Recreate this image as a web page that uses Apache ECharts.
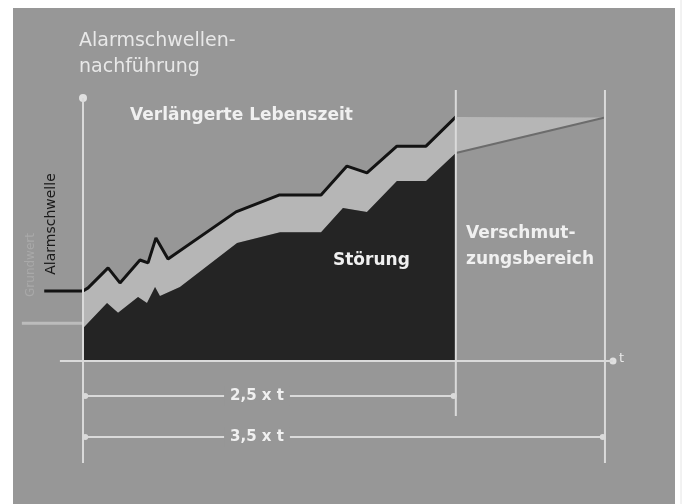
<!DOCTYPE html>
<html>
<head>
<meta charset="utf-8">
<script src="https://cdn.jsdelivr.net/npm/echarts@6/dist/echarts.min.js"></script>
<style>
  html, body { margin: 0; padding: 0; background: #ffffff; }
  #chart { width: 684px; height: 504px; }
</style>
</head>
<body>
<div id="chart"></div>
<script>
// time in units of t, signal level in % of y-axis height
const thresholdT = [-0.26, 0, 0.034, 0.168, 0.248, 0.382, 0.436, 0.489, 0.570, 1.026, 1.314, 1.596, 1.770, 1.904, 2.105, 2.300, 2.5];
const thresholdV = [26.6, 26.6, 27.8, 35.4, 29.7, 38.4, 37.3, 46.8, 38.8, 56.7, 63.1, 63.1, 74.1, 71.5, 81.7, 81.7, 92.8];
const disturbT = [0, 0.161, 0.235, 0.369, 0.429, 0.483, 0.516, 0.650, 1.033, 1.321, 1.596, 1.743, 1.904, 2.105, 2.300, 2.5];
const disturbV = [12.5, 22.1, 18.3, 24.3, 22.1, 28.1, 24.7, 28.1, 44.9, 49.0, 49.0, 58.2, 56.7, 68.4, 68.4, 79.1];
const pollutionT = [2.5, 3.5];
const pollutionTopV = [92.8, 92.6];
const pollutionBottomV = [79.1, 92.6];
const baseLevelT = [-0.41, 0];
const baseLevelV = [14.4, 14.4];
const markerT = [0, 2.5, 3.5];          // 0, 2,5 x t, 3,5 x t
const spanLabels = ['2,5 x t', '3,5 x t'];
const spanV = [-13.3, -28.9];
const axisTopV = 100;
const axisEndT = 3.554;

const zip = (a, b) => a.map((x, i) => [x, b[i]]);

const threshold = zip(thresholdT, thresholdV);
const disturb = zip(disturbT, disturbV);
const polTop = zip(pollutionT, pollutionTopV);
const polBottom = zip(pollutionT, pollutionBottomV);

// light band polygon: threshold (t>=0) -> wedge top -> wedge bottom back -> disturbance back
const bandPoly = threshold.filter(p => p[0] >= 0)
  .concat([polTop[1]])
  .concat(polBottom.slice().reverse())
  .concat(disturb.slice().reverse());
const blackPoly = disturb.concat([[disturbT[disturbT.length - 1], 0], [disturbT[0], 0]]);

const BG = '#979797';
const LIGHT = '#dadada';

function polySeries(poly, fill) {
  return {
    type: 'custom', silent: true, animation: false,
    data: [[0, 0]],
    renderItem: function (params, api) {
      return { type: 'polygon', shape: { points: poly.map(p => api.coord(p)) }, style: { fill: fill } };
    }
  };
}
function lineSeries(data, color, width, sym, symSize) {
  return {
    type: 'line', data: data, silent: true, animation: false, clip: false,
    symbol: sym || 'none', symbolSize: symSize || 0, showSymbol: !!sym,
    itemStyle: { color: color, borderWidth: 0 },
    lineStyle: { color: color, width: width }
  };
}

const chart = echarts.init(document.getElementById('chart'), null, { renderer: 'canvas' });
const series = [
  polySeries(bandPoly, '#b6b6b6'),
  polySeries(blackPoly, '#242424'),
  lineSeries(polBottom, '#6c6c6c', 2),
  lineSeries(threshold, '#131313', 3),
  lineSeries(zip(baseLevelT, baseLevelV), '#bcbcbc', 3),
  // y axis
  lineSeries([[markerT[0], spanV[1] - 9.9], [markerT[0], axisTopV]], LIGHT, 2),
  { type: 'scatter', data: [[markerT[0], axisTopV]], symbolSize: 8, itemStyle: { color: '#f2f2f2' }, silent: true, animation: false },
  // x axis
  lineSeries([[-0.155, 0], [axisEndT, 0]], LIGHT, 2),
  { type: 'scatter', data: [[axisEndT, 0]], symbolSize: 7, itemStyle: { color: '#f2f2f2' }, silent: true, animation: false },
  // vertical markers
  lineSeries([[markerT[1], -20.9], [markerT[1], 103]], LIGHT, 2),
  lineSeries([[markerT[2], spanV[1] - 9.9], [markerT[2], 103]], LIGHT, 2),
  // span lines
  lineSeries([[markerT[0] + 0.015, spanV[0]], [markerT[1] - 0.015, spanV[0]]], LIGHT, 2, 'circle', 6),
  lineSeries([[markerT[0] + 0.015, spanV[1]], [markerT[2] - 0.015, spanV[1]]], LIGHT, 2, 'circle', 6)
];

const txt = (text, left, top, size, weight, color, extra) => Object.assign({
  type: 'text', left: left, top: top, z: 100,
  style: { text: text, fill: color || '#eeeeee', font: (weight || 'normal') + ' ' + size + 'px "DejaVu Sans"' }
}, extra || {});

chart.setOption({
  backgroundColor: '#ffffff',
  animation: false,
  grid: { left: 15.9, right: 34.3, top: 71.7, bottom: 24.65, containLabel: false },
  xAxis: { type: 'value', min: -0.45, max: 3.8, show: false },
  yAxis: { type: 'value', min: -45, max: 110, show: false },
  graphic: [
    { type: 'rect', z: -100, shape: { x: 13, y: 8, width: 662, height: 496 }, style: { fill: BG } },
    { type: 'line', z: -90, shape: { x1: 681, y1: 0, x2: 681, y2: 504 }, style: { stroke: '#e4e4e4', lineWidth: 1 } },
    txt('Alarmschwellen-', 79, 32, 19, 'normal', '#e8e8e8'),
    txt('nachführung', 79, 58, 19, 'normal', '#e8e8e8'),
    txt('Verlängerte Lebenszeit', 130, 107, 17, 'bold', '#f0f0f0'),
    txt('Störung', 333, 252, 17, 'bold', '#f0f0f0'),
    txt('Verschmut-', 466, 225, 17, 'bold', '#f0f0f0'),
    txt('zungsbereich', 466, 251, 17, 'bold', '#f0f0f0'),
    txt('t', 619, 352, 13, 'normal', '#e8e8e8'),
    { type: 'text', z: 100, x: 51, y: 224, rotation: Math.PI / 2,
      style: { text: 'Alarmschwelle', fill: '#1a1a1a', font: 'normal 14px "DejaVu Sans"', textAlign: 'center', textVerticalAlign: 'middle' } },
    { type: 'text', z: 100, x: 31, y: 265, rotation: Math.PI / 2,
      style: { text: 'Grundwert', fill: '#a9a9a9', font: 'normal 12px "DejaVu Sans"', textAlign: 'center', textVerticalAlign: 'middle' } },
    { type: 'text', z: 100, x: 257, y: 396,
      style: { text: spanLabels[0], fill: '#f0f0f0', font: 'bold 15px "DejaVu Sans"', textAlign: 'center', textVerticalAlign: 'middle', backgroundColor: BG, padding: [2, 6] } },
    { type: 'text', z: 100, x: 257, y: 437,
      style: { text: spanLabels[1], fill: '#f0f0f0', font: 'bold 15px "DejaVu Sans"', textAlign: 'center', textVerticalAlign: 'middle', backgroundColor: BG, padding: [2, 6] } }
  ],
  series: series
});
</script>
</body>
</html>
